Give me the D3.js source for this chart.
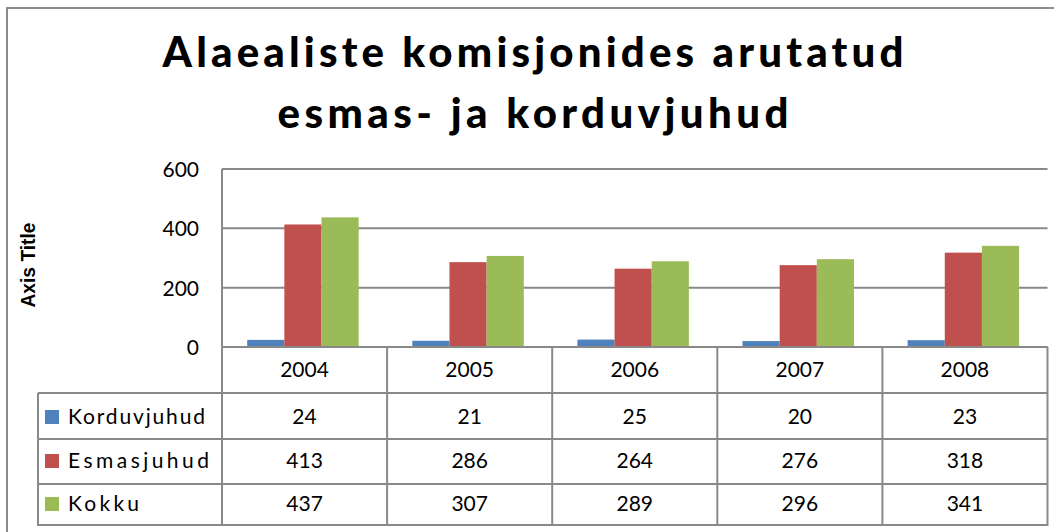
<!DOCTYPE html>
<html><head><meta charset="utf-8">
<script src="https://cdn.jsdelivr.net/npm/d3@7"></script>
<style>html,body{margin:0;padding:0;background:#fff;overflow:hidden}</style>
</head><body>
<svg id="c" width="1054" height="532"></svg>
<script>
const years = ["2004","2005","2006","2007","2008"];
const seriesNames = ["Korduvjuhud","Esmasjuhud","Kokku"];
const korduvjuhud = [24,21,25,20,23];
const esmasjuhud = [413,286,264,276,318];
const kokku = [437,307,289,296,341];
const yTicks = [0,200,400,600];
const colors = ["#4F81BD","#C0504D","#9BBB59"];
const titleLines = ["Alaealiste komisjonides arutatud","esmas- ja korduvjuhud"];
const axisTitle = "Axis Title";

const seriesValues = [korduvjuhud, esmasjuhud, kokku];
const svg = d3.select("#c");
const grid = "#898989";
const font = "Lato, 'Open Sans', sans-serif";

// outer frame
svg.append("rect").attr("x",7).attr("y",8).attr("width",1070).attr("height",540)
  .attr("fill","#fff").attr("stroke","#8c8c8c").attr("stroke-width",2);

// title
const tl = [{t:titleLines[0], y:67, w:741},{t:titleLines[1], y:128, w:511}];
svg.selectAll("text.title").data(tl).join("text").attr("class","title")
  .attr("x",533).attr("y",d=>d.y).attr("text-anchor","middle")
  .attr("font-family",font).attr("font-weight","900").attr("font-size",42)
  .attr("textLength",d=>d.w).attr("lengthAdjust","spacing")
  .text(d=>d.t);

const x = d3.scaleBand().domain(years).range([222,1047.5]).paddingInner(0).paddingOuter(0);
const xs = d3.scaleBand().domain(seriesNames).range([0,x.bandwidth()]).paddingInner(0).paddingOuter(0.722).align(0.47);
const y = d3.scaleLinear().domain([0,600]).range([347,169]);

// gridlines
svg.append("g").selectAll("line").data(yTicks).join("line")
  .attr("x1",222).attr("x2",1047.5).attr("y1",d=>y(d)).attr("y2",d=>y(d))
  .attr("stroke",grid).attr("stroke-width",2);

// y axis labels
const yAxis = d3.axisLeft(y).tickValues(yTicks).tickSize(0).tickPadding(23);
const ya = svg.append("g").attr("transform","translate(222,0)").call(yAxis);
ya.select(".domain").remove();
ya.selectAll("text").attr("font-family",font).attr("font-size",21).attr("fill","#000").attr("dy","0.35em");

// axis title
svg.append("text").attr("transform","translate(35,265) rotate(-90)")
  .attr("text-anchor","middle").attr("font-family","'Liberation Sans', Arial, sans-serif")
  .attr("font-weight","bold").attr("font-size",20)
  .attr("textLength",85).attr("lengthAdjust","spacingAndGlyphs").text(axisTitle);

// bars
const flat = [];
years.forEach((yr,i)=>seriesNames.forEach((s,j)=>flat.push({yr,s,j,v:seriesValues[j][i]})));
svg.append("g").selectAll("rect").data(flat).join("rect")
  .attr("x",d=>x(d.yr)+xs(d.s)).attr("width",xs.bandwidth())
  .attr("y",d=>y(d.v)).attr("height",d=>y(0)-y(d.v)-1)
  .attr("fill",d=>colors[d.j]);

// data table
const rowTop = [347,393,439,484,525];
const tbl = svg.append("g");
tbl.append("line").attr("x1",222).attr("x2",1047.5).attr("y1",rowTop[0]).attr("y2",rowTop[0]).attr("stroke",grid).attr("stroke-width",2);
rowTop.slice(1).forEach(ry=>{
  tbl.append("line").attr("x1",38).attr("x2",1047.5).attr("y1",ry).attr("y2",ry).attr("stroke",grid).attr("stroke-width",2);
});
tbl.append("line").attr("x1",38).attr("x2",38).attr("y1",393).attr("y2",526).attr("stroke",grid).attr("stroke-width",2);
tbl.append("line").attr("x1",222).attr("x2",222).attr("y1",169).attr("y2",526).attr("stroke",grid).attr("stroke-width",2);
years.forEach(yr=>{
  const xr = x(yr)+x.bandwidth();
  tbl.append("line").attr("x1",xr).attr("x2",xr).attr("y1",347).attr("y2",526).attr("stroke",grid).attr("stroke-width",2);
});
tbl.selectAll("text.cat").data(years).join("text").attr("class","cat")
  .attr("x",d=>x(d)+x.bandwidth()/2).attr("y",370).attr("dy","0.35em")
  .attr("text-anchor","middle").attr("font-family",font).attr("font-size",21).text(d=>d);
const rowCenter = [417,461,504];
const rowTextW = [137,141,71];
seriesNames.forEach((s,j)=>{
  tbl.append("rect").attr("x",45).attr("y",rowCenter[j]-7).attr("width",14).attr("height",14).attr("fill",colors[j]);
  tbl.append("text").attr("x",68).attr("y",rowCenter[j]).attr("dy","0.35em")
    .attr("font-family",font).attr("font-size",21)
    .attr("textLength",rowTextW[j]).attr("lengthAdjust","spacing").text(s);
  tbl.selectAll("text.v"+j).data(seriesValues[j]).join("text").attr("class","v"+j)
    .attr("x",(d,i)=>x(years[i])+x.bandwidth()/2).attr("y",rowCenter[j]).attr("dy","0.35em")
    .attr("text-anchor","middle").attr("font-family",font).attr("font-size",21).text(d=>d);
});
</script>
</body></html>
